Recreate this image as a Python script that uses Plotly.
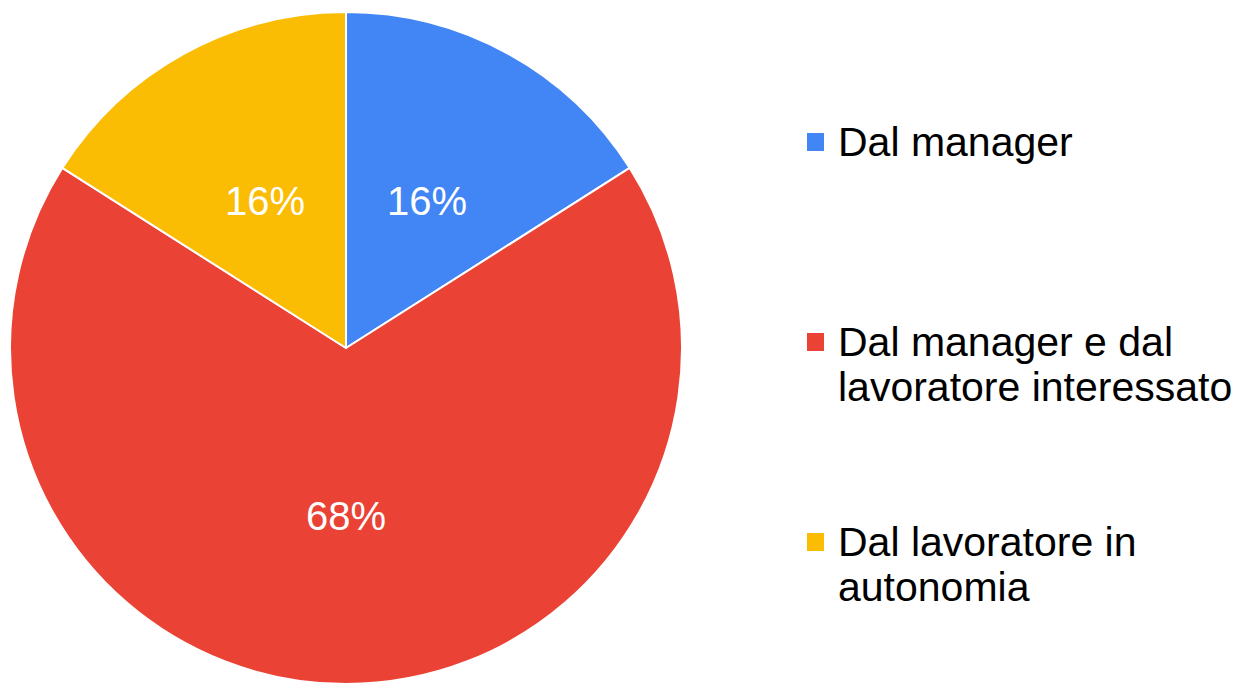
import math
import plotly.graph_objects as go

# Survey answers: who defines the objectives
labels = ["Dal manager", "Dal manager e dal lavoratore interessato", "Dal lavoratore in autonomia"]
legend_lines = [["Dal manager"], ["Dal manager e dal", "lavoratore interessato"], ["Dal lavoratore in", "autonomia"]]
values = [16, 68, 16]
colors = ["#4285F4", "#EA4335", "#FBBC04"]

W, H = 1245, 684
FONT = "Liberation Sans, Arial, sans-serif"

# Pie geometry in pixels
CX, CY, R = 346, 348, 336

fig = go.Figure(
    go.Pie(
        labels=labels,
        values=values,
        sort=False,
        direction="clockwise",
        rotation=0,
        marker=dict(colors=colors, line=dict(color="white", width=2)),
        textinfo="none",
        domain=dict(x=[(CX - R) / W, (CX + R) / W], y=[1 - (CY + R) / H, 1 - (CY - R) / H]),
        showlegend=False,
        hoverinfo="label+percent",
    )
)

annotations = []

# Percent labels, placed halfway out along each slice's mid-angle
total = sum(values)
cum = 0.0
for v in values:
    mid = (cum + v / 2) / total * 2 * math.pi
    cum += v
    px = CX + 0.5 * R * math.sin(mid)
    py = CY - 0.5 * R * math.cos(mid)
    annotations.append(dict(
        x=px / W, y=1 - py / H, xref="paper", yref="paper",
        xanchor="center", yanchor="middle", showarrow=False,
        text=f"{round(v / total * 100)}%",
        font=dict(family=FONT, size=40, color="white"),
    ))

# Legend drawn on the right: square swatch plus wrapped label lines
shapes = []
item_centres = [142, 342, 542]
line_gap = 45
for i, (lines, col) in enumerate(zip(legend_lines, colors)):
    cy = item_centres[i]
    shapes.append(dict(
        type="rect", xref="paper", yref="paper",
        x0=807 / W, x1=824 / W, y0=1 - (cy + 9) / H, y1=1 - (cy - 9) / H,
        fillcolor=col, line=dict(width=0),
    ))
    for j, txt in enumerate(lines):
        annotations.append(dict(
            x=836 / W, y=1 - (cy + j * line_gap) / H, xref="paper", yref="paper",
            xanchor="left", yanchor="middle", showarrow=False, text=txt,
            font=dict(family=FONT, size=41, color="#000000"),
        ))

fig.update_layout(
    width=W, height=H,
    margin=dict(l=0, r=0, t=0, b=0),
    paper_bgcolor="white",
    plot_bgcolor="white",
    shapes=shapes,
    annotations=annotations,
)

fig.write_html("out.html")
